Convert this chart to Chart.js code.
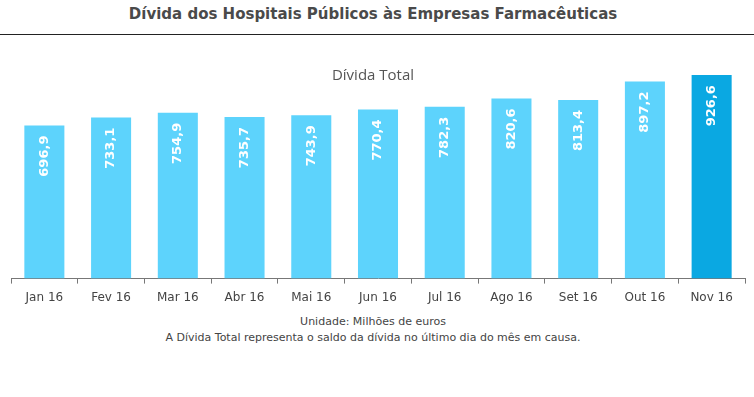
<!DOCTYPE html>
<html>
<head>
<meta charset="utf-8">
<script src="https://cdn.jsdelivr.net/npm/chart.js@4"></script>
<style>
  body { margin: 0; background: #fff; width: 754px; height: 397px; position: relative; overflow: hidden; }
  #title { position: absolute; top: 5px; left: 0; width: 746px; text-align: center;
           font: bold 15px "DejaVu Sans", sans-serif; color: #4a4a4a; }
  #rule { position: absolute; top: 34px; left: 0; width: 754px; height: 0; border-top: 1px solid #222; }
  #sub { position: absolute; top: 64px; left: 0; width: 746px; text-align: center;
         font: 15px "Open Sans", sans-serif; color: #555; }
  #wrap { position: absolute; top: 36px; left: 0; width: 754px; height: 276px; }
  .foot { position: absolute; left: 0; width: 746px; text-align: center;
          font: 11px "DejaVu Sans", sans-serif; color: #444; }
</style>
</head>
<body>
<div id="title">Dívida dos Hospitais Públicos às Empresas Farmacêuticas</div>
<div id="rule"></div>
<div id="wrap"><canvas id="chart"></canvas></div>
<div id="sub">Dívida Total</div>
<div class="foot" style="top:315px">Unidade: Milhões de euros</div>
<div class="foot" style="top:331px">A Dívida Total representa o saldo da dívida no último dia do mês em causa.</div>
<script>
const labels = ['Jan 16', 'Fev 16', 'Mar 16', 'Abr 16', 'Mai 16', 'Jun 16', 'Jul 16', 'Ago 16', 'Set 16', 'Out 16', 'Nov 16'];
const divida = [696.9, 733.1, 754.9, 735.7, 743.9, 770.4, 782.3, 820.6, 813.4, 897.2, 926.6];
const lightBlue = '#5dd3fc';
const darkBlue = '#0aa8e2';

// white value labels, rotated, inside the top of each bar
const barLabels = {
    id: 'barLabels',
    afterDatasetsDraw(chart) {
        const ctx = chart.ctx;
        const meta = chart.getDatasetMeta(0);
        ctx.save();
        ctx.font = 'bold 13px "DejaVu Sans", sans-serif';
        ctx.fillStyle = '#fff';
        ctx.textAlign = 'right';
        ctx.textBaseline = 'middle';
        meta.data.forEach((bar, i) => {
            ctx.save();
            ctx.translate(bar.x, bar.y + 10);
            ctx.rotate(-Math.PI / 2);
            ctx.fillText(divida[i].toFixed(1).replace('.', ','), 0, 0);
            ctx.restore();
        });
        ctx.restore();
    }
};

new Chart(document.getElementById('chart'), {
    type: 'bar',
    data: {
        labels: labels,
        datasets: [{
            label: 'Dívida Total',
            data: divida,
            backgroundColor: divida.map((v, i) => i === divida.length - 1 ? darkBlue : lightBlue),
            barPercentage: 0.6,
            categoryPercentage: 1
        }]
    },
    options: {
        responsive: true,
        maintainAspectRatio: false,
        animation: false,
        layout: { padding: { left: 11, right: 9, top: 23, bottom: 0 } },
        plugins: {
            legend: { display: false },
            tooltip: { enabled: false }
        },
        scales: {
            x: {
                grid: { display: true, drawOnChartArea: false, tickLength: 5, color: '#777' },
                border: { color: '#777' },
                ticks: { color: '#444', font: { family: 'DejaVu Sans', size: 12 }, padding: 7, maxRotation: 0 }
            },
            y: {
                display: false,
                min: 0,
                max: 1000
            }
        }
    },
    plugins: [barLabels]
});
</script>
</body>
</html>
